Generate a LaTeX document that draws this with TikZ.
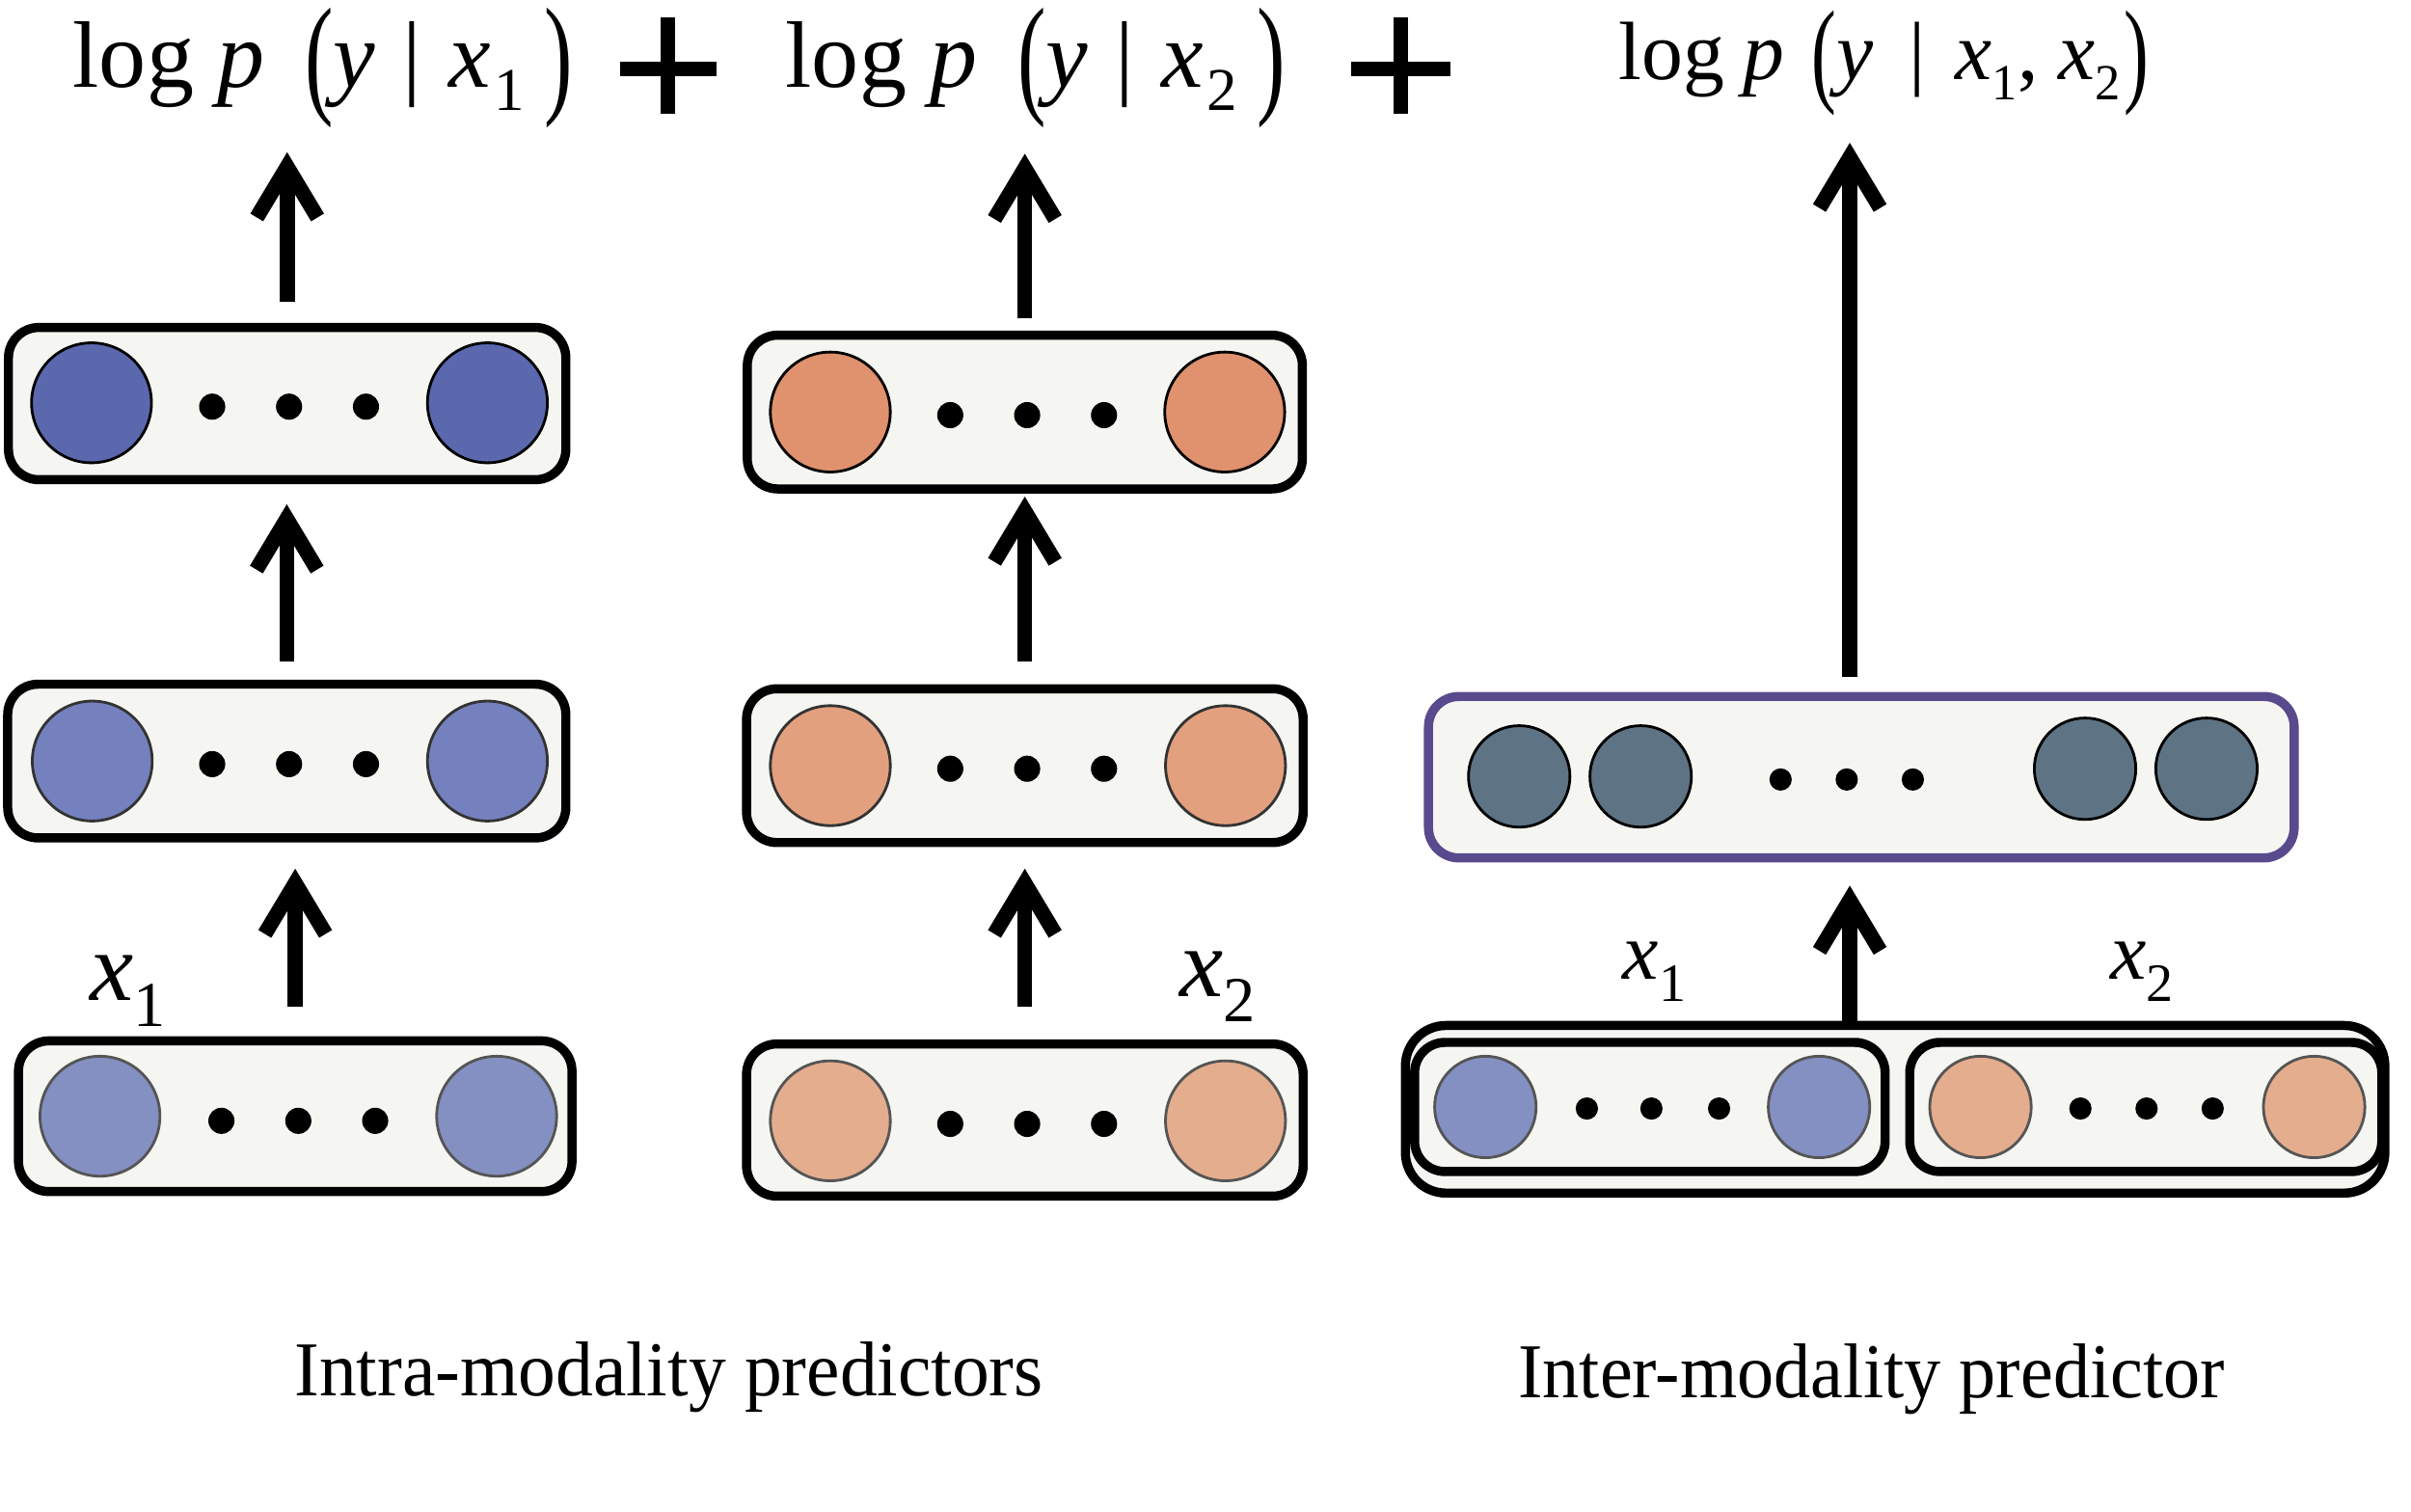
\documentclass[tikz,border=0pt]{standalone}
\usepackage{fontspec}
\setmainfont{Liberation Serif}
\usepackage{graphicx}
\usetikzlibrary{arrows.meta,calc}
\definecolor{boxfill}{HTML}{F5F6F2}
\definecolor{blueA}{HTML}{5B68AE}
\definecolor{blueB}{HTML}{7581BE}
\definecolor{blueC}{HTML}{8490C2}
\definecolor{orA}{HTML}{E0916E}
\definecolor{orB}{HTML}{E3A07F}
\definecolor{orC}{HTML}{E4AD8E}
\definecolor{slate}{HTML}{5E7384}
\definecolor{purp}{HTML}{584A8C}
\definecolor{rimgray}{HTML}{555555}
\newcommand{\ux}[1]{#1*0.016cm}
\newcommand{\bigpar}[1]{\raisebox{-3.9pt}{\scalebox{0.9}[1.4]{#1}}}
\newcommand{\smallpar}[1]{\raisebox{-3.4pt}{\scalebox{0.9}[1.4]{#1}}}
\newcommand{\subA}[1]{\raisebox{-7pt}{\fontsize{18}{18}\selectfont #1}}
\newcommand{\subB}[1]{\raisebox{-7.5pt}{\fontsize{19}{19}\selectfont #1}}
\newcommand{\subC}[1]{\raisebox{-6pt}{\fontsize{15}{15}\selectfont #1}}
\newcommand{\subD}[1]{\raisebox{-6.5pt}{\fontsize{16}{16}\selectfont #1}}
\begin{document}
\begin{tikzpicture}[x=0.016cm,y=-0.016cm,
  layer/.style={draw=black, line width=2.7pt, rounded corners=9pt, fill=boxfill, inner sep=0pt, outer sep=0pt},
  unitA/.style={circle, inner sep=0pt, outer sep=0pt, minimum size=\ux{78}, line width=0.8pt, draw=black},
  unitB/.style={unitA, draw=black!80},
  unitC/.style={unitA, draw=rimgray},
  unitS/.style={circle, inner sep=0pt, outer sep=0pt, minimum size=\ux{66}, line width=0.8pt},
  dotn/.style={circle, fill=black, inner sep=0pt, minimum size=\ux{17}},
  dots/.style={circle, fill=black, inner sep=0pt, minimum size=\ux{14.5}},
  arr/.style={line width=4.45pt, -{Straight Barb[length=15pt,width=18pt]}},
  plusln/.style={line width=4.3pt},
  title/.style={inner sep=0pt, outer sep=0pt, anchor=base west, font=\fontsize{28}{30}\selectfont, text depth=10.7pt},
  titlesm/.style={title, font=\fontsize{24.5}{26}\selectfont, text depth=9.5pt},
  xlab/.style={inner sep=0pt, anchor=base west, font=\fontsize{29}{30}\selectfont},
  xlabsm/.style={inner sep=0pt, anchor=base west, font=\fontsize{24}{26}\selectfont},
  caption/.style={inner sep=0pt, anchor=base west, font=\fontsize{23}{25}\selectfont}]
\useasboundingbox (0,0) rectangle (1568,983);

% titles
\node[title] (T1) at (47.5,56.5) {log\hspace{7pt}\textit{p}\hspace{12pt}\bigpar{(}\textit{y}\hspace{8pt}|\hspace{8pt}\textit{x}\hspace{1pt}\subA{1}\hspace{6pt}\bigpar{)}};
\node[title] (T2) at (511,56.5) {log\hspace{7pt}\textit{p}\hspace{12pt}\bigpar{(}\textit{y}\hspace{8pt}|\hspace{8pt}\textit{x}\hspace{1pt}\subA{2}\hspace{6pt}\bigpar{)}};
\node[titlesm] (T3) at (1053,52) {log\hspace{5.5pt}\textit{p}\hspace{8pt}\smallpar{(}\textit{y}\hspace{10.5pt}|\hspace{9pt}\textit{x}\subC{1},\hspace{6pt}\textit{x}\subC{2}\hspace{1pt}\smallpar{)}};
\draw[plusln] (403,44.6) -- (466,44.6);
\draw[plusln] (434.5,11) -- (434.5,74);
\draw[plusln] (879,44.6) -- (943,44.6);
\draw[plusln] (911,11) -- (911,74);

% column 1
\node[layer, minimum width=\ux{362.5}, minimum height=\ux{99}] (A3) at (186.75,262.5) {};
\node[layer, minimum width=\ux{363}, minimum height=\ux{100}] (A2) at (186.5,495) {};
\node[layer, minimum width=\ux{360}, minimum height=\ux{98}] (A1) at (192,726) {};
\node[unitA, fill=blueA] (a3l) at (59.5,262) {};
\node[unitA, fill=blueA] (a3r) at (317,262) {};
\node[dotn] (a3d1) at (138,264.5) {};
\node[dotn] (a3d2) at (188,264.5) {};
\node[dotn] (a3d3) at (238,264.5) {};
\node[unitB, fill=blueB] (a2l) at (60,495) {};
\node[unitB, fill=blueB] (a2r) at (317,495) {};
\node[dotn] (a2d1) at (138,497) {};
\node[dotn] (a2d2) at (188,497) {};
\node[dotn] (a2d3) at (238,497) {};
\node[unitC, fill=blueC] (a1l) at (65,726) {};
\node[unitC, fill=blueC] (a1r) at (323,726) {};
\node[dotn] (a1d1) at (144,729) {};
\node[dotn] (a1d2) at (194,729) {};
\node[dotn] (a1d3) at (244,729) {};
\node[xlab] (XA) at (58,651) {\textit{x}\subB{1}};

% column 2
\node[layer, minimum width=\ux{361}, minimum height=\ux{100}] (B3) at (666.5,268) {};
\node[layer, minimum width=\ux{362}, minimum height=\ux{100}] (B2) at (666.5,498) {};
\node[layer, minimum width=\ux{362}, minimum height=\ux{99}] (B1) at (666.5,728.5) {};
\node[unitA, fill=orA] (b3l) at (540,268) {};
\node[unitA, fill=orA] (b3r) at (796.5,268) {};
\node[dotn] (b3d1) at (618,270) {};
\node[dotn] (b3d2) at (668,270) {};
\node[dotn] (b3d3) at (718,270) {};
\node[unitB, fill=orB] (b2l) at (540,498) {};
\node[unitB, fill=orB] (b2r) at (797,498) {};
\node[dotn] (b2d1) at (618,500) {};
\node[dotn] (b2d2) at (668,500) {};
\node[dotn] (b2d3) at (718,500) {};
\node[unitC, fill=orC] (b1l) at (540,729) {};
\node[unitC, fill=orC] (b1r) at (797,729) {};
\node[dotn] (b1d1) at (618,731) {};
\node[dotn] (b1d2) at (668,731) {};
\node[dotn] (b1d3) at (718,731) {};
\node[xlab] (XB) at (767,648) {\textit{x}\subB{2}};

% column 3
\node[layer, draw=purp, minimum width=\ux{563}, minimum height=\ux{105}] (P) at (1210.5,505.5) {};
\node[unitS, draw=black, fill=slate] (p1) at (988,505) {};
\node[unitS, draw=black, fill=slate] (p2) at (1067,505) {};
\node[unitS, draw=black, fill=slate] (p3) at (1356,500) {};
\node[unitS, draw=black, fill=slate] (p4) at (1435,500) {};
\node[dots] (pd1) at (1158,507) {};
\node[dots] (pd2) at (1201,507) {};
\node[dots] (pd3) at (1244,507) {};
\node[layer, rounded corners=12pt, minimum width=\ux{637}, minimum height=\ux{109}] (O) at (1232.5,721.5) {};
\node[layer, minimum width=\ux{306}, minimum height=\ux{84}] (IL) at (1073,720) {};
\node[layer, minimum width=\ux{307}, minimum height=\ux{84}] (IR) at (1395.5,720) {};
\node[unitS, draw=rimgray, fill=blueC] (il1) at (966,720) {};
\node[unitS, draw=rimgray, fill=blueC] (il2) at (1183,720) {};
\node[dots] (ild1) at (1032,721) {};
\node[dots] (ild2) at (1074,721) {};
\node[dots] (ild3) at (1118,721) {};
\node[unitS, draw=rimgray, fill=orC] (ir1) at (1288,720) {};
\node[unitS, draw=rimgray, fill=orC] (ir2) at (1505,720) {};
\node[dots] (ird1) at (1353,721) {};
\node[dots] (ird2) at (1396,721) {};
\node[dots] (ird3) at (1439,721) {};
\node[xlabsm] (XC1) at (1055,637) {\textit{x}\subD{1}};
\node[xlabsm] (XC2) at (1372,637) {\textit{x}\subD{2}};

% captions
\node[caption] (C1) at (191,908) {\scalebox{0.962}[1]{Intra-modality predictors}};
\node[caption] (C2) at (987,909) {\scalebox{0.946}[1]{Inter-modality predictor}};

% arrows
\draw[arr, shorten <=\ux{22}, shorten >=\ux{20}] (A1.north) -- (A1.north |- A2.south);
\draw[arr, shorten <=\ux{15}, shorten >=\ux{16}] (A2.north) -- (A2.north |- A3.south);
\draw[arr, shorten <=\ux{17}, shorten >=\ux{19}] (A3.north) -- (A3.north |- T1.south);
\draw[arr, shorten <=\ux{24}, shorten >=\ux{17}] (B1.north) -- (B1.north |- B2.south);
\draw[arr, shorten <=\ux{18}, shorten >=\ux{5}] (B2.north) -- (B2.north |- B3.south);
\draw[arr, shorten <=\ux{11}, shorten >=\ux{20}] (B3.north) -- (B3.north |- T2.south);
\coordinate (pb) at ([xshift=-\ux{7.5}]P.south);
\coordinate (pt) at ([xshift=-\ux{7.5}]P.north);
\draw[arr, shorten >=\ux{18}] (pb |- O.north) -- (pb);
\draw[arr, shorten <=\ux{13}, shorten >=\ux{20}] (pt) -- (pt |- T3.south);
\end{tikzpicture}
\end{document}
